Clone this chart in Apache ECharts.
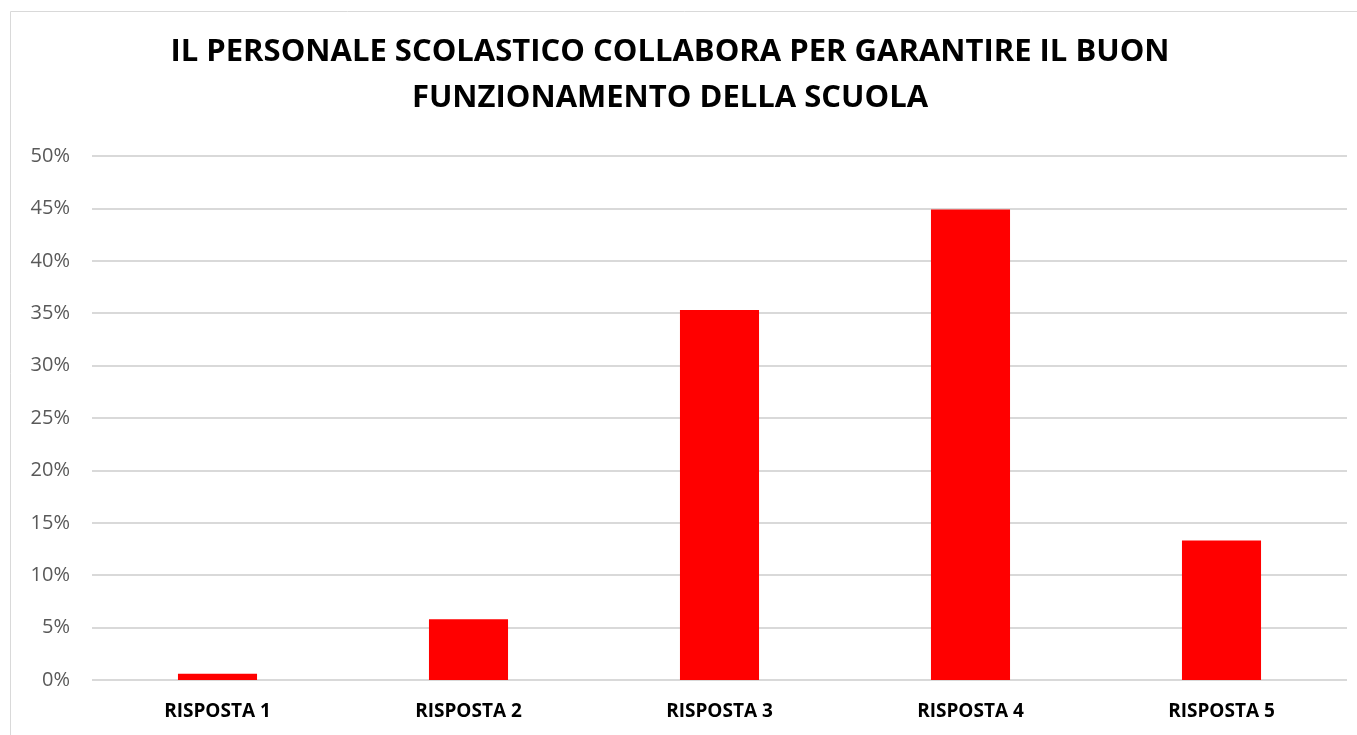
<!DOCTYPE html>
<html><head><meta charset="utf-8">
<script src="https://cdn.jsdelivr.net/npm/echarts@6/dist/echarts.min.js"></script>
<style>html,body{margin:0;padding:0;background:#fff}#c{width:1357px;height:735px}</style>
</head><body><div id="c"></div>
<script>
const categories = ['RISPOSTA 1','RISPOSTA 2','RISPOSTA 3','RISPOSTA 4','RISPOSTA 5'];
const values = [0.6, 5.8, 35.3, 44.9, 13.3];
const titleText = 'IL PERSONALE SCOLASTICO COLLABORA PER GARANTIRE IL BUON\nFUNZIONAMENTO DELLA SCUOLA';

const chart = echarts.init(document.getElementById('c'));
chart.setOption({
  animation: false,
  graphic: [{type:'rect', shape:{x:10.5,y:11.5,width:1400,height:800}, style:{fill:'none', stroke:'#d9d9d9', lineWidth:1}, silent:true}],
  title: {
    text: titleText, left: 665, top: 24, textAlign: 'center',
    textStyle: {fontFamily:'Open Sans', fontWeight:'bold', fontSize:31, lineHeight:46, color:'#000'}
  },
  grid: {left:92, right:10, top:156, bottom:55, containLabel:false},
  xAxis: {
    type:'category', data: categories,
    axisLine:{show:false}, axisTick:{show:false},
    axisLabel:{color:'#000', fontFamily:'Open Sans', fontWeight:'bold', fontSize:19, margin:22}
  },
  yAxis: {
    type:'value', min:0, max:50, interval:5,
    axisLabel:{formatter:'{value}%', color:'#595959', fontFamily:'Open Sans', fontSize:20, margin:22},
    splitLine:{lineStyle:{color:'#d9d9d9', width:2}},
    axisLine:{show:false}, axisTick:{show:false}
  },
  series: [{type:'bar', data: values, barWidth:'31.5%', itemStyle:{color:'#ff0000'}}]
});
</script></body></html>
